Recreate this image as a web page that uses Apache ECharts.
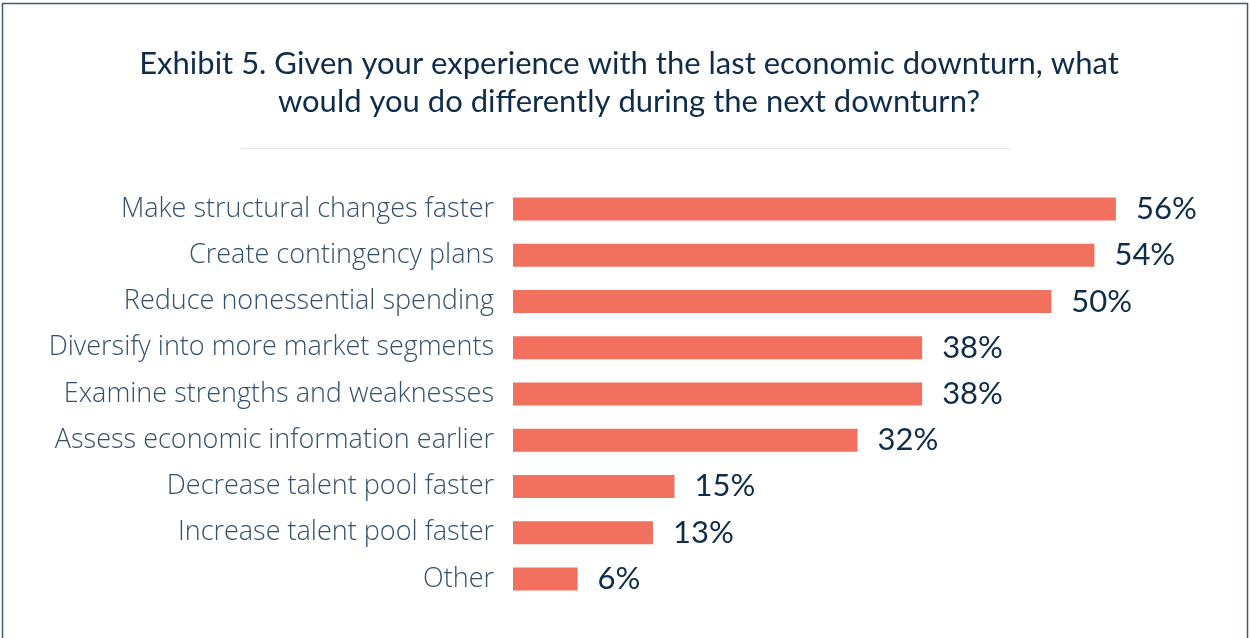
<!DOCTYPE html>
<html><head><meta charset="utf-8">
<script src="https://cdn.jsdelivr.net/npm/echarts@6/dist/echarts.min.js"></script>
<style>html,body{margin:0;padding:0;background:#fff}#c{width:1250px;height:638px}</style>
</head><body><div id="c"></div>
<script>
const categories = [
  'Make structural changes faster',
  'Create contingency plans',
  'Reduce nonessential spending',
  'Diversify into more market segments',
  'Examine strengths and weaknesses',
  'Assess economic information earlier',
  'Decrease talent pool faster',
  'Increase talent pool faster',
  'Other'
];
const values = [56, 54, 50, 38, 38, 32, 15, 13, 6];
const titleText = 'Exhibit 5. Given your experience with the last economic downturn, what\nwould you do differently during the next downturn?';

const chart = echarts.init(document.getElementById('c'));
chart.setOption({
  animation: false,
  backgroundColor: '#fff',
  title: {
    text: titleText,
    left: 624,
    top: 40,
    textAlign: 'center',
    textStyle: { fontFamily: 'Lato', fontWeight: 'normal', fontSize: 31, lineHeight: 38, color: '#0f2d4a', align: 'center' }
  },
  graphic: [
    { type: 'rect', shape: { x: 2.5, y: 3.5, width: 1245, height: 660 }, style: { fill: 'none', stroke: '#3e5a75', lineWidth: 1.5 }, silent: true },
    { type: 'line', shape: { x1: 241, y1: 148.5, x2: 1010, y2: 148.5 }, style: { stroke: '#dde3e8', lineWidth: 1 }, silent: true }
  ],
  grid: { left: 513, top: 186, width: 646, height: 416 },
  xAxis: { type: 'value', min: 0, max: 60, show: false },
  yAxis: {
    type: 'category', data: categories, inverse: true,
    axisLine: { show: false }, axisTick: { show: false },
    axisLabel: { margin: 19, fontFamily: 'Open Sans', fontWeight: 300, fontSize: 27, color: '#34506c' }
  },
  series: [{
    type: 'bar', data: values, barWidth: 23,
    itemStyle: { color: '#f2705e' },
    label: { show: true, position: 'right', distance: 20, formatter: '{c}%', fontFamily: 'Lato', fontWeight: 'normal', fontSize: 31, color: '#0f2d4a' }
  }]
});
</script></body></html>
